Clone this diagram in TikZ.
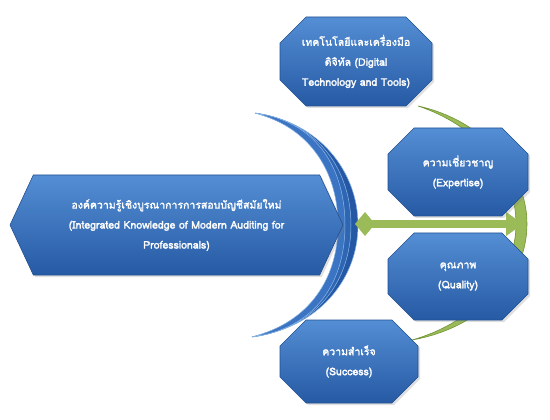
\documentclass[tikz,border=0pt]{standalone}
\usepackage{fontspec}
\newfontfamily\thaifont[Script=Thai, AutoFakeBold=2]{Loma}
\usetikzlibrary{shapes.misc,shapes.symbols,arrows.meta,shadows}
\definecolor{boxtop}{RGB}{84,142,212}
\definecolor{boxbot}{RGB}{38,90,164}
\definecolor{boxedge}{RGB}{34,80,146}
\definecolor{arcA}{RGB}{36,88,164}
\definecolor{arcB}{RGB}{46,102,180}
\definecolor{arcC}{RGB}{58,116,194}
\definecolor{arcedge}{RGB}{140,182,230}
\definecolor{ringgreen}{RGB}{155,187,89}
\definecolor{ringdark}{RGB}{112,146,52}

\begin{document}
\begin{tikzpicture}[x=1pt,y=-1pt,
  boxtext/.style={font=\thaifont\bfseries\fontsize{10.5}{20}\selectfont, text=white, align=center},
  bluefill/.style={top color=boxtop, bottom color=boxbot, draw=boxedge, line width=0.6pt,
    drop shadow={opacity=0.25, shadow xshift=2pt, shadow yshift=-2pt}},
  octbox/.style={boxtext, bluefill, chamfered rectangle, chamfered rectangle xsep=13pt,
    chamfered rectangle ysep=13pt, inner sep=0pt, curl},
  mainbox/.style={boxtext, bluefill, signal, signal to=east and west,
    signal pointer angle=130, inner sep=0pt},
  curl/.style={path picture={
    \fill[white, opacity=0.4]
      ([xshift=-18pt]path picture bounding box.north east)
      -- ([yshift=-18pt]path picture bounding box.north east)
      -- ([xshift=-5pt, yshift=-20pt]path picture bounding box.north east)
      -- ([xshift=-20pt, yshift=-5pt]path picture bounding box.north east) -- cycle;
    \fill[white, opacity=0.4]
      ([xshift=18pt]path picture bounding box.south west)
      -- ([yshift=18pt]path picture bounding box.south west)
      -- ([xshift=5pt, yshift=20pt]path picture bounding box.south west)
      -- ([xshift=20pt, yshift=5pt]path picture bounding box.south west) -- cycle;
  }}]
  \useasboundingbox (0,0) rectangle (550,420);

  % Anel verde
  \filldraw[fill=ringgreen, draw=ringdark, line width=0.6pt]
    (418,106) .. controls (482,120) and (527,170) .. (527,224)
    .. controls (527,280) and (480,328) .. (412,340)
    .. controls (475,322) and (516,276) .. (516,224)
    .. controls (516,172) and (478,126) .. cycle;

  % Arcos azuis
  \foreach \xo/\xi/\c in {358/350/arcA, 351/344/arcB, 345/338/arcC} {
    \filldraw[fill=\c, draw=arcedge, line width=0.5pt]
      (255,113) .. controls (320,122) and (\xo,172) .. (\xo,225)
      .. controls (\xo,280) and (318,328) .. (252,337)
      .. controls (310,322) and (\xi,278) .. (\xi,225)
      .. controls (\xi,174) and (312,128) .. cycle;
  }

  % Barra verde
  \coordinate (hub) at (355,224);
  \coordinate (rim) at (523,224);
  \draw[ringgreen, line width=8pt,
    {Diamond[length=20pt,width=24pt]}-{Triangle[length=17pt,width=23pt]}] (hub) -- (rim);

  % Caixa central
  \node[mainbox, minimum width=333pt, minimum height=100pt] (main) at (176.5,225)
    {องค์ความรู้เชิงบูรณาการการสอบบัญชีสมัยใหม่\\(Integrated Knowledge of Modern Auditing for\\Professionals)};

  % Caixas
  \node[octbox, minimum width=152pt, minimum height=89pt] (tools) at (356,61.5)
    {เทคโนโลยีและเครื่องมือ\\ดิจิทัล (Digital\\Technology and Tools)};
  \node[octbox, minimum width=140pt, minimum height=88pt] (expert) at (458,172)
    {ความเชี่ยวชาญ\\(Expertise)};
  \node[octbox, minimum width=140pt, minimum height=87pt] (quality) at (458,276.5)
    {คุณภาพ\\(Quality)};
  \node[octbox, minimum width=138pt, minimum height=83pt] (success) at (349,361.5)
    {ความสำเร็จ\\(Success)};
\end{tikzpicture}
\end{document}
